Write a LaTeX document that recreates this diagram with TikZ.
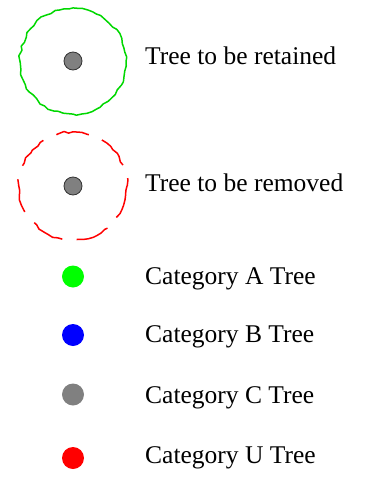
\documentclass[tikz,border=0pt]{standalone}
\usepackage{fontspec}
\setmainfont{Liberation Serif}
\usetikzlibrary{decorations.pathmorphing}
\definecolor{cloudgreen}{RGB}{0,215,0}
\pgfmathsetseed{7}
\begin{document}
\begin{tikzpicture}[x=1pt,y=-1pt,
  label/.style={anchor=base west,inner sep=0pt,font=\fontsize{25.5}{30}\selectfont},
  dot/.style={circle,inner sep=0pt,minimum size=18pt,fill=gray,draw=black!80,line width=0.8pt},
  catdot/.style={circle,inner sep=0pt,minimum size=22pt},
  cloud/.style={line width=1.5pt,line join=round,decorate,decoration={random steps,segment length=5pt,amplitude=1.2pt}}]
\useasboundingbox (0,0) rectangle (376,477);
% retained
\node[dot] (d1) at (73,61) {};
\draw[cloud,cloudgreen] (d1.center) circle[radius=53];
\node[label] (t1) at (145,64) {Tree to be retained};
% removed
\node[dot] (d2) at (73,186) {};
\draw[cloud,red,dash pattern=on 34pt off 14.5pt] (d2.center) circle[radius=54];
\node[label] (t2) at (145,191) {Tree to be removed};
% categories
\node[catdot,fill={rgb,255:red,0;green,255;blue,0}] (a) at (73,276.5) {};
\node[label] (ta) at (145,284) {Category A Tree};
\node[catdot,fill={rgb,255:red,0;green,0;blue,255}] (b) at (73,335) {};
\node[label] (tb) at (145,342) {Category B Tree};
\node[catdot,fill={rgb,255:red,128;green,128;blue,128}] (c) at (73,394.5) {};
\node[label] (tc) at (145,403) {Category C Tree};
\node[catdot,fill={rgb,255:red,255;green,0;blue,0}] (u) at (73,458) {};
\node[label] (tu) at (145,463) {Category U Tree};
\end{tikzpicture}
\end{document}
